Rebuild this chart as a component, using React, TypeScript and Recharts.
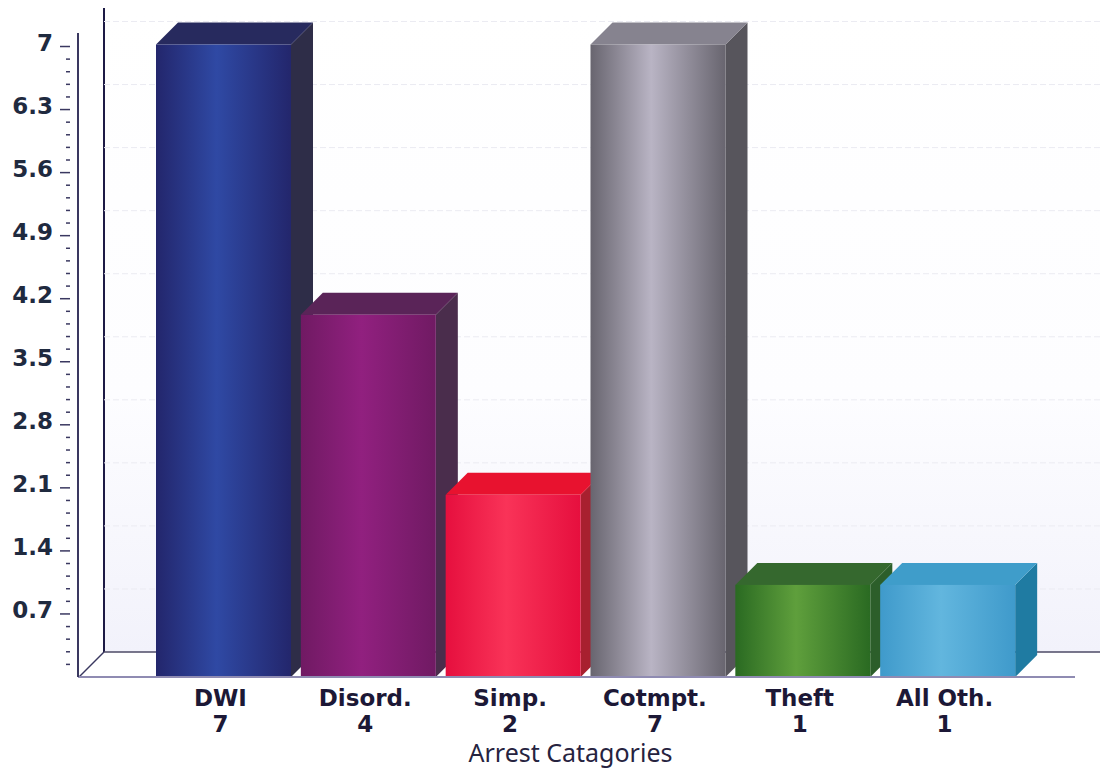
import { Bar, BarChart, CartesianGrid, XAxis, YAxis } from "recharts";

// contagem de prisões por categoria, como aparece no gráfico original
const CATEGORIES = ["DWI", "Disord.", "Simp.", "Cotmpt.", "Theft", "All Oth."];
const ARRESTS = [7, 4, 2, 7, 1, 1];
const MAJOR_TICKS = [0, 0.7, 1.4, 2.1, 2.8, 3.5, 4.2, 4.9, 5.6, 6.3, 7];
const MINOR_TICKS = [
  0.14, 0.28, 0.42, 0.56, 0.84, 0.98, 1.12, 1.26, 1.54, 1.68, 1.82, 1.96, 2.24, 2.38, 2.52, 2.66,
  2.94, 3.08, 3.22, 3.36, 3.64, 3.78, 3.92, 4.06, 4.34, 4.48, 4.62, 4.76, 5.04, 5.18, 5.32, 5.46,
  5.74, 5.88, 6.02, 6.16, 6.44, 6.58, 6.72, 6.86,
];
const X_TITLE = "Arrest Catagories";

// [borda, centro, topo, lateral]
const BAR_COLORS = [
  ["#23266c", "#2f49a4", "#272a5e", "#2e2d48"],
  ["#701a63", "#91207f", "#5a2458", "#4a2d4c"],
  ["#e60f3e", "#f93358", "#e8122f", "#a8202f"],
  ["#68656f", "#b9b4c4", "#86838f", "#57555c"],
  ["#2a6a22", "#5f9f3c", "#35682e", "#2c5e2a"],
  ["#3f9acb", "#62b6de", "#3f9dca", "#1f7ba2"],
];

const rows = CATEGORIES.map((name, i) => ({ name, value: ARRESTS[i] }));
const DEPTH = 22;
const WALL = 25;
const LIFT = 2;
const CHART_W = 1100;

function Bar3D(props: any) {
  const { x, y, width, height, index } = props;
  const [, , top, side] = BAR_COLORS[index];
  const t = y - LIFT;
  const b = y + height;
  const r = x + width;
  return (
    <g>
      <polygon points={`${r},${t} ${r + DEPTH},${t - DEPTH} ${r + DEPTH},${b - DEPTH} ${r},${b}`} fill={side} />
      <polygon points={`${x},${t} ${x + DEPTH},${t - DEPTH} ${r + DEPTH},${t - DEPTH} ${r},${t}`} fill={top} />
      <rect x={x} y={t} width={width} height={b - t} fill={`url(#bar${index})`} />
    </g>
  );
}

// a primeira linha da grade (valor 0) desenha também a parede do fundo
function GridLine(props: any) {
  const { x1, y1, y } = props;
  const left = x1 + WALL + 1;
  if (y1 > 670) {
    const top = y - WALL;
    const floor = y1 - WALL;
    return (
      <g>
        <rect x={left} y={top} width={CHART_W - left} height={floor - top} fill="url(#wall)" />
        <line x1={left} y1={top} x2={left} y2={floor} stroke="#1d1a45" strokeWidth={2} />
        <line x1={x1 + 1} y1={y1} x2={left} y2={floor} stroke="#3a3860" strokeWidth={1.5} />
        <line x1={left} y1={floor} x2={CHART_W} y2={floor} stroke="#4c4a66" strokeWidth={1.5} />
      </g>
    );
  }
  return <line x1={left} y1={y1 - WALL} x2={CHART_W} y2={y1 - WALL} stroke="#ebebf2" strokeDasharray="6 3" />;
}

function YTick(props: any) {
  const { x, y, payload } = props;
  if (payload.value === 0) return <g />;
  const major = MAJOR_TICKS.includes(payload.value);
  return (
    <g>
      <line x1={major ? x - 10 : x - 4} y1={y} x2={x} y2={y} stroke="#3a3860" strokeWidth={1.5} />
      {major && (
        <text
          x={53}
          y={y + 4}
          textAnchor="end"
          fontFamily="DejaVu Sans"
          fontWeight={700}
          fontSize={23}
          fill="#1f2a3f"
        >
          {payload.value}
        </text>
      )}
    </g>
  );
}

function XTick(props: any) {
  const { x, y, payload, index } = props;
  return (
    <text textAnchor="middle" fontFamily="DejaVu Sans" fontWeight={700} fontSize={23} fill="#1c1836">
      <tspan x={x - 3} y={y + 21}>
        {payload.value}
      </tspan>
      <tspan x={x - 3} y={y + 47}>
        {ARRESTS[index]}
      </tspan>
    </text>
  );
}

export default function App() {
  return (
    <div style={{ position: "absolute", left: 0, top: 0, width: 1100, height: 771, background: "#fff" }}>
      <BarChart
        width={CHART_W}
        height={771}
        data={rows}
        barSize={135}
        margin={{ top: 33, right: 25, left: 0, bottom: 0 }}
      >
        <defs>
          <linearGradient id="wall" x1="0" y1="0" x2="0" y2="1">
            <stop offset="0%" stopColor="#ffffff" />
            <stop offset="60%" stopColor="#fdfdff" />
            <stop offset="100%" stopColor="#f2f2fb" />
          </linearGradient>
          {BAR_COLORS.map((c, i) => (
            <linearGradient key={i} id={`bar${i}`} x1="0" y1="0" x2="1" y2="0">
              <stop offset="0%" stopColor={c[0]} />
              <stop offset="45%" stopColor={c[1]} />
              <stop offset="100%" stopColor={c[0]} />
            </linearGradient>
          ))}
        </defs>
        <CartesianGrid vertical={false} horizontalValues={MAJOR_TICKS} horizontal={GridLine} />
        <XAxis
          dataKey="name"
          interval={0}
          tickLine={false}
          tick={XTick}
          height={94}
          padding={{ left: 73, right: 55 }}
          axisLine={{ stroke: "#8f8bb2", strokeWidth: 2 }}
          label={{
            value: X_TITLE,
            position: "insideBottom",
            offset: 9,
            dx: -6,
            fontFamily: "Noto Sans",
            fontSize: 25,
            fill: "#26233f",
          }}
        />
        <YAxis
          width={78}
          domain={[0, 7.15]}
          ticks={[...MAJOR_TICKS, ...MINOR_TICKS]}
          interval={0}
          tickLine={false}
          tick={YTick}
          axisLine={{ stroke: "#3a3860", strokeWidth: 2 }}
        />
        <Bar dataKey="value" shape={Bar3D} isAnimationActive={false} />
      </BarChart>
    </div>
  );
}
